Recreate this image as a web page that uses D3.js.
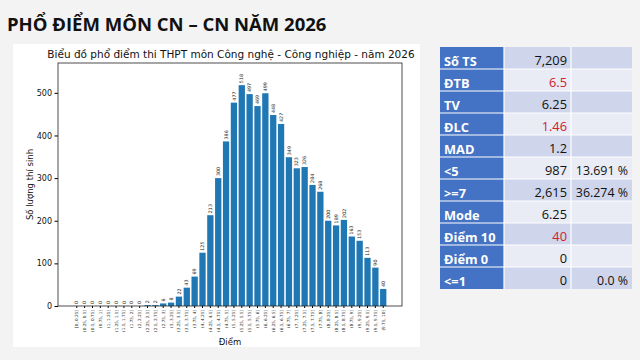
<!DOCTYPE html>
<html>
<head>
<meta charset="utf-8">
<script src="https://cdn.jsdelivr.net/npm/d3@7"></script>
<style>
  body { margin: 0; background: #f3f3f3; }
  svg { display: block; }
</style>
</head>
<body>
<div id="chart"></div>
<script>
// data
const bins = ["[0, 0.25]", "(0.25, 0.5]", "(0.5, 0.75]", "(0.75, 1]", "(1, 1.25]", "(1.25, 1.5]",
  "(1.5, 1.75]", "(1.75, 2]", "(2, 2.25]", "(2.25, 2.5]", "(2.5, 2.75]", "(2.75, 3]", "(3, 3.25]",
  "(3.25, 3.5]", "(3.5, 3.75]", "(3.75, 4]", "(4, 4.25]", "(4.25, 4.5]", "(4.5, 4.75]", "(4.75, 5]",
  "(5, 5.25]", "(5.25, 5.5]", "(5.5, 5.75]", "(5.75, 6]", "(6, 6.25]", "(6.25, 6.5]", "(6.5, 6.75]",
  "(6.75, 7]", "(7, 7.25]", "(7.25, 7.5]", "(7.5, 7.75]", "(7.75, 8]", "(8, 8.25]", "(8.25, 8.5]",
  "(8.5, 8.75]", "(8.75, 9]", "(9, 9.25]", "(9.25, 9.5]", "(9.5, 9.75]", "(9.75, 10]"];
const counts = [0, 0, 0, 0, 0, 0, 0, 0, 0, 2, 2, 6, 8, 22, 43, 69, 125, 213, 300, 386,
  477, 518, 497, 469, 499, 448, 427, 349, 323, 326, 284, 268, 200, 189, 202, 163, 153, 113, 90, 40];
const yTicks = [0, 100, 200, 300, 400, 500];

const statLabels = ["Số TS", "ĐTB", "TV", "ĐLC", "MAD", "<5", ">=7", "Mode", "Điểm 10", "Điểm 0", "<=1"];
const statValues = ["7,209", "6.5", "6.25", "1.46", "1.2", "987", "2,615", "6.25", "40", "0", "0"];
const statPercents = ["", "", "", "", "", "13.691 %", "36.274 %", "", "", "", "0.0 %"];
const redRows = ["ĐTB", "ĐLC", "Điểm 10"];

const W = 640, H = 360;
const svg = d3.select("#chart").append("svg")
  .attr("width", W).attr("height", H);

// slide title
svg.append("text")
  .attr("x", 7).attr("y", 31)
  .attr("font-family", "Open Sans, sans-serif")
  .attr("font-weight", 700)
  .attr("font-size", 18.5)
  .attr("fill", "#111")
  .text("PHỔ ĐIỂM MÔN CN – CN NĂM 2026");

// chart picture (white card)
svg.append("rect")
  .attr("x", 13).attr("y", 44).attr("width", 407).attr("height", 303)
  .attr("fill", "#fff");

const plot = { left: 58, right: 402, top: 63, bottom: 306 };

const x = d3.scaleBand()
  .domain(bins)
  .range([plot.left, plot.right])
  .paddingInner(0.2)
  .paddingOuter(1.99);

const y = d3.scaleLinear()
  .domain([0, 570])
  .range([plot.bottom, plot.top]);

const font = "DejaVu Sans, sans-serif";

svg.append("text")
  .attr("x", 231).attr("y", 58)
  .attr("text-anchor", "middle")
  .attr("font-family", font).attr("font-size", 10.5)
  .attr("fill", "#111")
  .text("Biểu đồ phổ điểm thi THPT môn Công nghệ - Công nghiệp - năm 2026");

// bars
svg.append("g").selectAll("rect")
  .data(counts)
  .join("rect")
  .attr("x", (d, i) => x(bins[i]))
  .attr("y", d => y(d))
  .attr("width", x.bandwidth())
  .attr("height", d => y(0) - y(d))
  .attr("fill", "#1f77b4");

// value labels
svg.append("g").selectAll("text")
  .data(counts)
  .join("text")
  .attr("transform", (d, i) =>
    `translate(${x(bins[i]) + x.bandwidth() / 2 + 1.6},${y(d) - 2}) rotate(-90)`)
  .attr("font-family", font).attr("font-size", 4.8)
  .attr("fill", "#222")
  .text(d => d);

// axes
const yAxis = svg.append("g")
  .attr("transform", `translate(${plot.left},0)`)
  .call(d3.axisLeft(y).tickValues(yTicks).tickSize(3.5).tickPadding(2.5));
yAxis.select(".domain").remove();
yAxis.selectAll("text").attr("font-family", font).attr("font-size", 8).attr("fill", "#111");

const xAxis = svg.append("g")
  .attr("transform", `translate(0,${plot.bottom})`)
  .call(d3.axisBottom(x).tickSize(2).tickPadding(2));
xAxis.select(".domain").remove();
xAxis.selectAll("text")
  .attr("font-family", font).attr("font-size", 4.2).attr("fill", "#222")
  .attr("text-anchor", "end")
  .attr("dy", "0.35em")
  .attr("transform", "translate(0,4) rotate(-90)")
  .attr("x", 0).attr("y", 0);

// frame
svg.append("rect")
  .attr("x", plot.left).attr("y", plot.top)
  .attr("width", plot.right - plot.left).attr("height", plot.bottom - plot.top)
  .attr("fill", "none").attr("stroke", "#222").attr("stroke-width", 0.8);

svg.append("text")
  .attr("x", (plot.left + plot.right) / 2).attr("y", 345)
  .attr("text-anchor", "middle")
  .attr("font-family", font).attr("font-size", 8.5).attr("fill", "#111")
  .text("Điểm");

svg.append("text")
  .attr("transform", `translate(33,${(plot.top + plot.bottom) / 2}) rotate(-90)`)
  .attr("text-anchor", "middle")
  .attr("font-family", font).attr("font-size", 8.5).attr("fill", "#111")
  .text("Số lượng thí sinh");

// stats table
const tbl = { x: 440, y: 47, rowH: 22, cols: [64, 67, 61] };
const colX = [tbl.x, tbl.x + tbl.cols[0], tbl.x + tbl.cols[0] + tbl.cols[1]];
const rows = svg.append("g").selectAll("g")
  .data(statLabels)
  .join("g")
  .attr("transform", (d, i) => `translate(0,${tbl.y + i * tbl.rowH})`);

rows.append("rect")
  .attr("x", colX[0]).attr("width", tbl.cols[0]).attr("height", tbl.rowH)
  .attr("fill", "#4472c4");
rows.append("rect")
  .attr("x", colX[1]).attr("width", tbl.cols[1]).attr("height", tbl.rowH)
  .attr("fill", (d, i) => i % 2 === 0 ? "#cfd5ea" : "#e9ebf5");
rows.append("rect")
  .attr("x", colX[2]).attr("width", tbl.cols[2]).attr("height", tbl.rowH)
  .attr("fill", (d, i) => i % 2 === 0 ? "#cfd5ea" : "#e9ebf5");

const tfont = "Open Sans, sans-serif";
rows.append("text")
  .attr("x", colX[0] + 4).attr("y", 19)
  .attr("font-family", tfont).attr("font-weight", 700).attr("font-size", 12.8)
  .attr("fill", "#fff")
  .text(d => d);
rows.append("text")
  .attr("x", colX[1] + tbl.cols[1] - 4).attr("y", 18)
  .attr("text-anchor", "end")
  .attr("font-family", tfont).attr("font-size", 12.8)
  .attr("fill", d => redRows.includes(d) ? "#d0202e" : "#111")
  .text((d, i) => statValues[i]);
rows.append("text")
  .attr("x", colX[2] + tbl.cols[2] - 4).attr("y", 18)
  .attr("text-anchor", "end")
  .attr("font-family", tfont).attr("font-size", 12.4)
  .attr("fill", "#111")
  .text((d, i) => statPercents[i]);

// white grid lines
const tableW = d3.sum(tbl.cols);
const grid = svg.append("g").attr("stroke", "#fff").attr("stroke-width", 1.2);
grid.selectAll("line.h")
  .data(d3.range(1, statLabels.length))
  .join("line")
  .attr("x1", tbl.x).attr("x2", tbl.x + tableW)
  .attr("y1", i => tbl.y + i * tbl.rowH).attr("y2", i => tbl.y + i * tbl.rowH);
grid.selectAll("line.v")
  .data([colX[1], colX[2]])
  .join("line")
  .attr("x1", d => d).attr("x2", d => d)
  .attr("y1", tbl.y).attr("y2", tbl.y + statLabels.length * tbl.rowH);
</script>
</body>
</html>
